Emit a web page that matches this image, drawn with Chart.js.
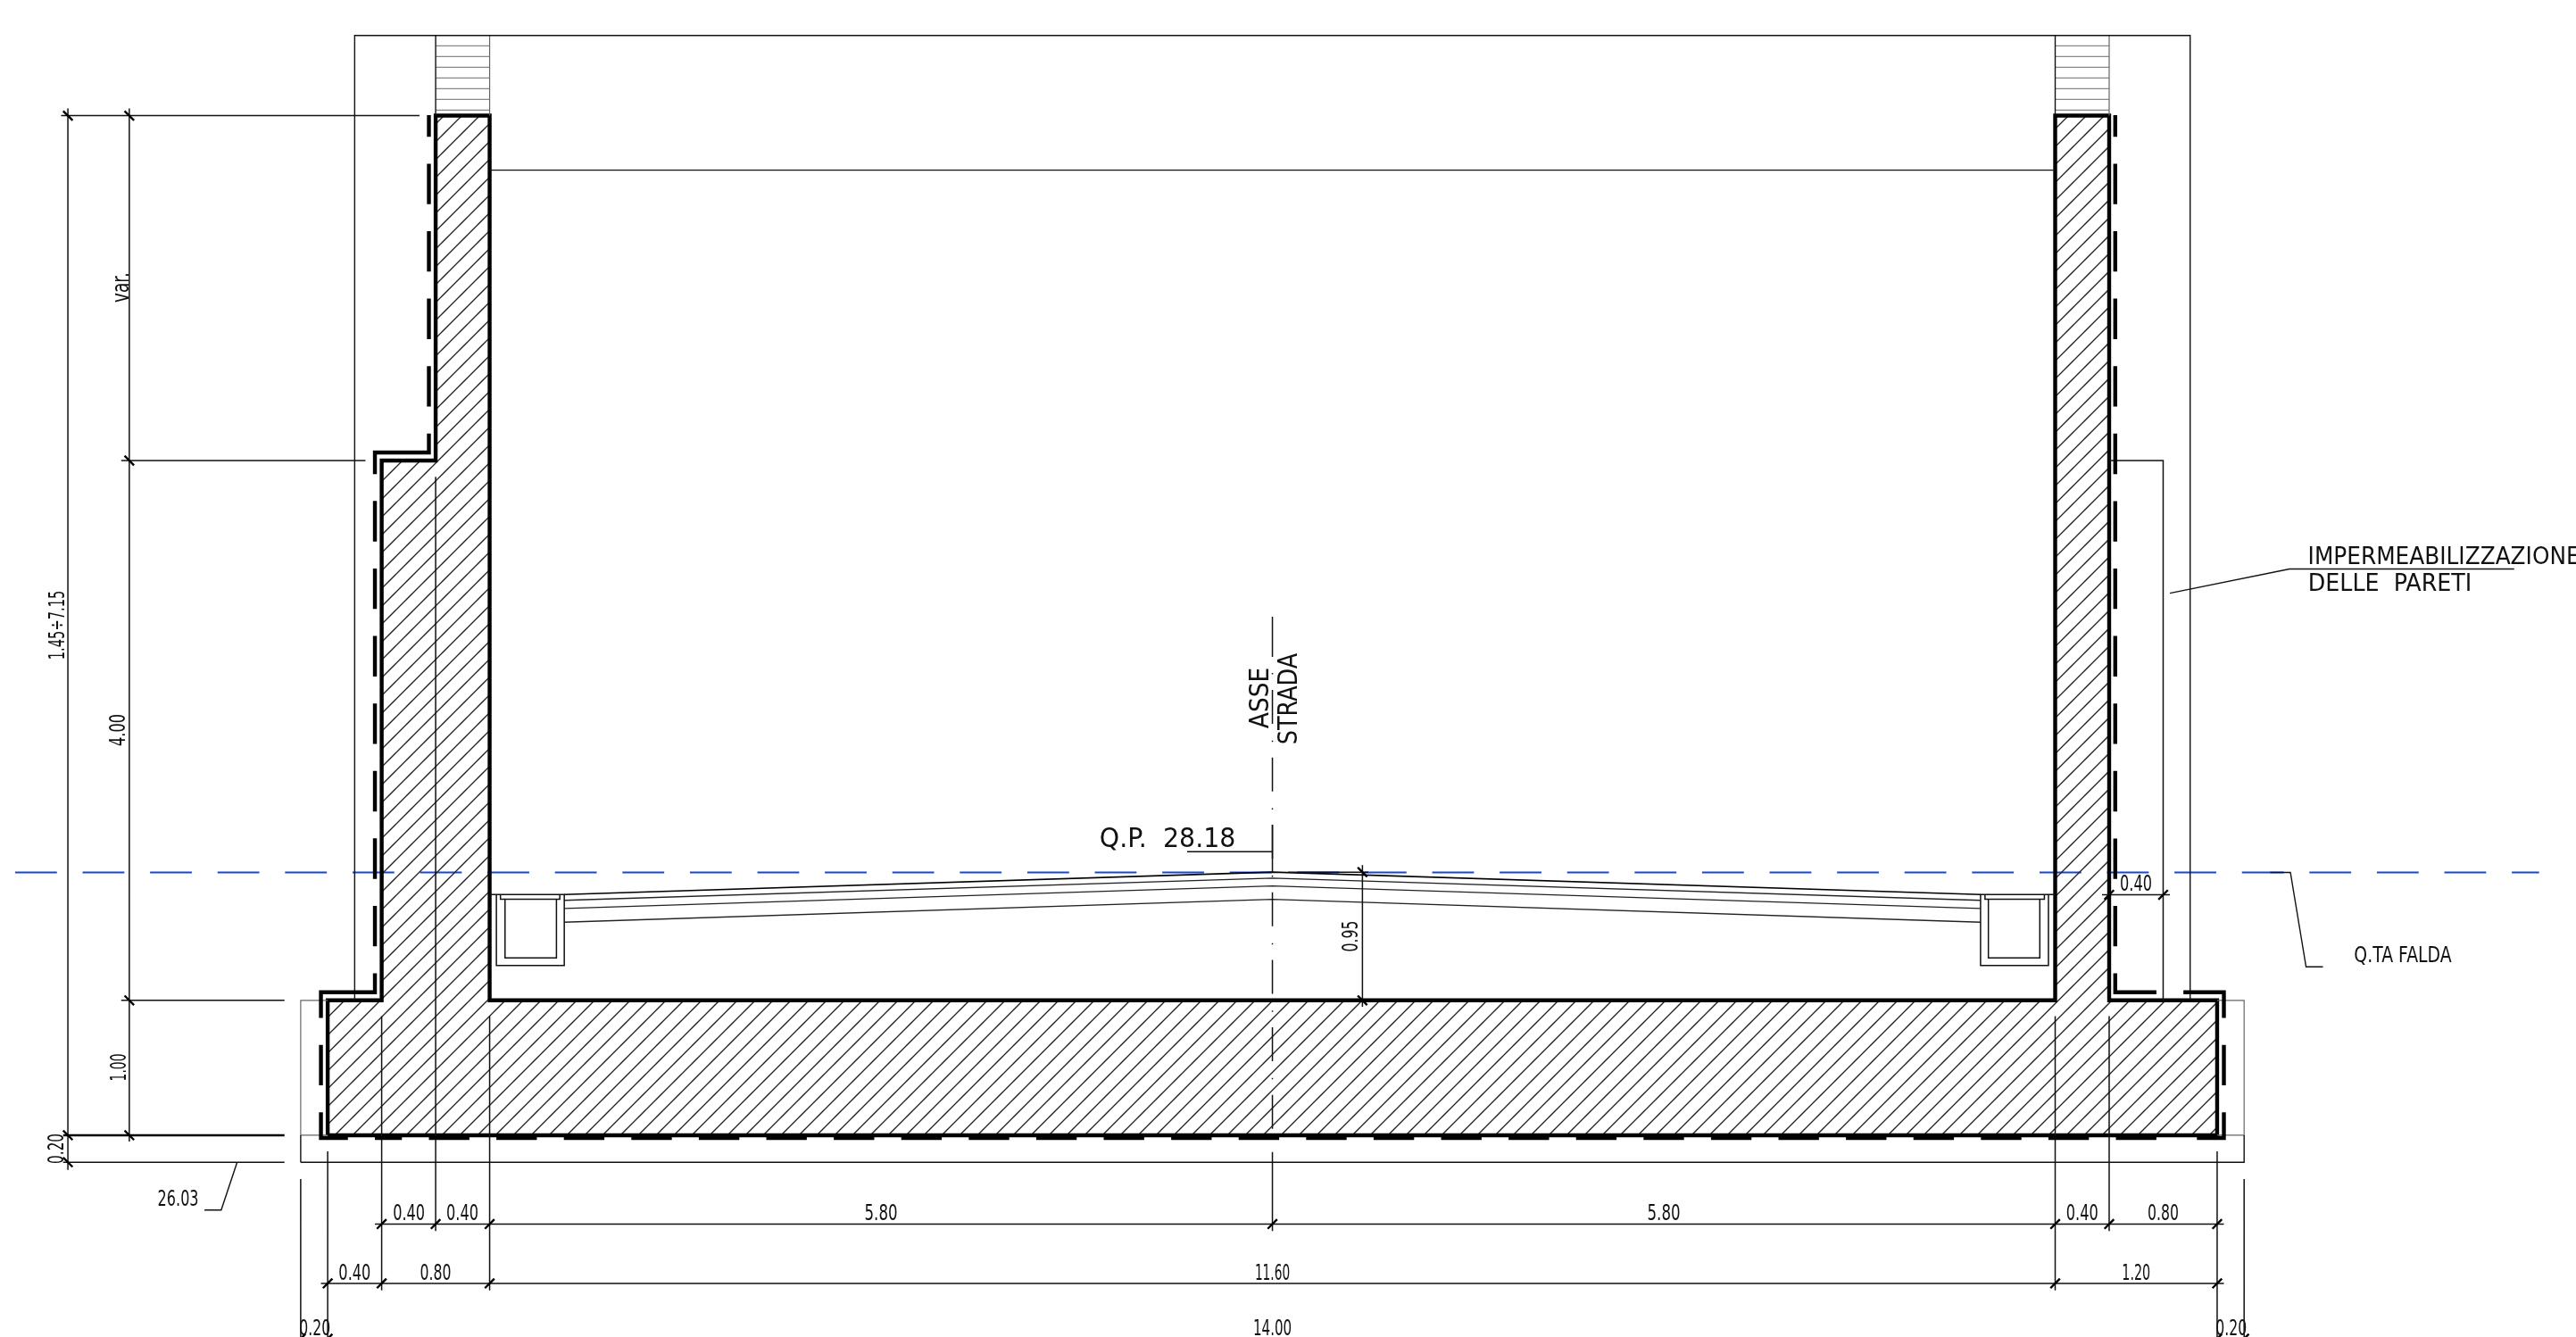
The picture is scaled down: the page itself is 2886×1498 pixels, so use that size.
<!DOCTYPE html>
<html>
<head>
<meta charset="utf-8">
<title>Sezione trasversale</title>
<style>
  html, body { margin: 0; padding: 0; background: #fff; overflow: hidden; }
  #box { width: 2886px; height: 1498px; }
</style>
<script src="https://cdn.jsdelivr.net/npm/chart.js@4/dist/chart.umd.min.js"></script>
</head>
<body>
<div id="box"><canvas id="sezione"></canvas></div>
<script>
// all geometry is in metres: x = 0 on the road axis, y = 0 under the foundation

const concreteOutline = [[-7,0],[-7,1],[-6.6,1],[-6.6,5],[-6.2,5],[-6.2,7.556],[-5.8,7.556],[-5.8,1],
  [5.8,1],[5.8,7.556],[6.2,7.556],[6.2,1],[7,1],[7,0],[-7,0]];

// waterproofing: dashed runs (0.30 on / 0.20 off) and the solid stubs at the corners
const membraneRuns = [
  [[-6.25,7.20],[-6.25,5.40]],
  [[-6.65,4.70],[-6.65,1.40]],
  [[-7.05,0.67],[-7.05,0.37]],
  [[6.245,7.20],[6.245,1.40]],
  [[7.05,0.67],[7.05,0.37]]
];
const membraneBase = [[-6.65,-0.02],[6.65,-0.02]];
const membraneStubs = [
  [[-6.25,7.56],[-6.25,7.40]],
  [[-6.25,5.20],[-6.25,5.06],[-6.65,5.06],[-6.65,4.90]],
  [[-6.65,1.20],[-6.65,1.06],[-7.05,1.06],[-7.05,0.87]],
  [[-7.05,0.17],[-7.05,-0.02],[-6.85,-0.02]],
  [[6.245,7.56],[6.245,7.40]],
  [[6.245,1.20],[6.245,1.06],[6.55,1.06]],
  [[6.75,1.06],[7.05,1.06],[7.05,0.87]],
  [[7.05,0.17],[7.05,-0.02],[6.85,-0.02]]
];

const waterLevel = [[-9.316,1.948],[9.385,1.948]];

const axisRun = [[0,3.30],[0,0]];
const axisSolid = [
  [[0,3.843],[0,3.545]],
  [[0,3.426],[0,3.416]],
  [[0,2.302],[0,1.951]],
  [[0,-0.124],[0,-0.71]]
];

const frameLines = [
  [[-6.8,1],[-6.8,8.15],[6.8,8.15],[6.8,1]],
  [[-5.8,7.152],[5.8,7.152]],
  [[-7.2,-0.2],[7.2,-0.2],[7.2,0]],
  [[-7.2,0],[-7.2,-0.2]],
  [[-6.2,7.556],[-6.2,8.15]],
  [[5.8,7.556],[5.8,8.15]]
];
const greyLines = [
  [[-7,1],[-7.2,1],[-7.2,0],[-7,0]],
  [[7,1],[7.2,1],[7.2,0],[7,0]],
  [[-5.8,7.556],[-5.8,8.15]],
  [[6.2,7.556],[6.2,8.15]]
];
const parapetRows = [8.073, 7.994, 7.914, 7.835, 7.756, 7.676, 7.597];

const roadCrest = [[[-5.247,1.784],[0,1.95],[5.247,1.784]]];
const roadLayers = [
  [[-5.247,1.741],[0,1.905],[5.247,1.741]],
  [[-5.247,1.68],[0,1.847],[5.247,1.68]],
  [[-5.247,1.579],[0,1.748],[5.247,1.579]]
];
const drains = [
  [[-5.8,1.784],[-5.247,1.784],[-5.247,1.258],[-5.75,1.258],[-5.75,1.784]],
  [[-5.686,1.75],[-5.686,1.314],[-5.305,1.314],[-5.305,1.75]],
  [[-5.72,1.784],[-5.72,1.75],[-5.28,1.75],[-5.28,1.784]],
  [[5.8,1.784],[5.247,1.784],[5.247,1.258],[5.75,1.258],[5.75,1.784]],
  [[5.686,1.75],[5.686,1.314],[5.305,1.314],[5.305,1.75]],
  [[5.72,1.784],[5.72,1.75],[5.28,1.75],[5.28,1.784]]
];

const dimensionLines = [
  [[-8.925,7.61],[-8.925,-0.256]],
  [[-8.47,7.61],[-8.47,-0.047]],
  [[-8.975,7.556],[-6.32,7.556]],
  [[-8.53,5],[-6.72,5]],
  [[-8.53,1],[-7.32,1]],
  [[-8.96,-0.2],[-7.32,-0.2]],
  [[-6.65,-0.658],[7.05,-0.658]],
  [[-7.05,-1.098],[7.05,-1.098]],
  [[-7.25,-1.508],[7.25,-1.508]],
  [[-7.2,-0.324],[-7.2,-1.6]],
  [[-7,-0.12],[-7,-1.6]],
  [[-6.6,0.882],[-6.6,-1.15]],
  [[-6.2,4.88],[-6.2,-0.71]],
  [[-5.8,0.882],[-5.8,-1.15]],
  [[5.8,0.882],[5.8,-1.15]],
  [[6.2,0.882],[6.2,-0.71]],
  [[7,-0.12],[7,-1.6]],
  [[7.2,-0.324],[7.2,-1.6]],
  [[6.147,1.782],[6.65,1.782]],
  [[6.2,5],[6.6,5],[6.6,1]],
  [[0.667,2.002],[0.667,0.952]],
  [[0.116,1.95],[0.711,1.95]],
  [[-0.632,2.101],[0,2.101]]
];
const heavyDimension = [[[-8.96,0],[-7.32,0]]];

const leaders = [
  [[-7.671,-0.2],[-7.789,-0.554],[-7.913,-0.554]],
  [[7.393,1.948],[7.543,1.948],[7.659,1.248],[7.784,1.248]],
  [[6.65,4.017],[7.536,4.196],[9.201,4.196]]
];

// dimension ticks: "/" on horizontal dimensions, "\" on vertical ones
const ticksOnHorizontal = [
  [-6.6,-0.658],[-6.2,-0.658],[-5.8,-0.658],[0,-0.658],[5.8,-0.658],[6.2,-0.658],[7,-0.658],
  [-7,-1.098],[-6.6,-1.098],[-5.8,-1.098],[5.8,-1.098],[7,-1.098],
  [-7.2,-1.508],[-7,-1.508],[7,-1.508],[7.2,-1.508],
  [6.2,1.782],[6.6,1.782]
];
const ticksOnVertical = [
  [-8.925,7.556],[-8.47,7.556],[-8.47,5],[-8.47,1],[-8.47,0],[-8.925,0],[-8.925,-0.2],
  [0.667,1.95],[0.667,1]
];

const labelTexts = ["var.","1.45÷7.15","4.00","1.00","0.20","26.03",
  "0.40","0.40","5.80","5.80","0.40","0.80",
  "0.40","0.80","11.60","1.20",
  "0.20","14.00","0.20",
  "0.40","0.95","Q.TA FALDA","IMPERMEABILIZZAZIONE","DELLE  PARETI","ASSE","STRADA","Q.P.  28.18"];
const labelX = [-8.538,-9.014,-8.562,-8.557,-9.018,-8.108,
  -6.398,-6.002,-2.9,2.9,6,6.6,
  -6.8,-6.2,0,6.4,
  -7.095,0,7.104,
  6.399,0.575,8.376,8.681,8.28,-0.103,0.107,-0.777];
const labelY = [6.283,3.78,3.003,0.503,-0.099,-0.463,
  -0.573,-0.573,-0.573,-0.573,-0.573,-0.573,
  -1.012,-1.012,-1.012,-1.012,
  -1.422,-1.422,-1.422,
  1.872,1.475,1.343,4.298,4.101,3.241,3.234,2.209];

// label look: [cap height px, text width px, vertical]
const labelLook = [[19.5,34,1],[18.4,77.7,1],[17.7,36,1],[17.7,31,1],[17.7,34,1],[17.7,46,0],
  [17.7,36,0],[17.7,36,0],[17.7,37,0],[17.7,37,0],[17.7,36,0],[17.7,35,0],
  [17.7,36,0],[17.7,35,0],[17.7,39.3,0],[17.7,32,0],
  [17.7,35,0],[17.7,43.3,0],[17.7,35,0],
  [17.7,36,0],[17.7,35,1],[17.7,109.4,0],[19,305,0],[19.5,183.6,0],[21.4,68.5,1],[22,102.5,1],[22,152.6,0]];

function toPoints(paths) {
  const pts = [];
  paths.forEach((path, i) => {
    if (i > 0) pts.push({x: NaN, y: NaN});
    path.forEach(p => pts.push({x: p[0], y: p[1]}));
  });
  return pts;
}

function hatchPattern() {
  const tile = document.createElement("canvas");
  tile.width = 20;
  tile.height = 20;
  const c = tile.getContext("2d");
  c.strokeStyle = "#222";
  c.lineWidth = 1.3;
  [7, 27].forEach(k => {
    c.beginPath();
    c.moveTo(k + 2, -2);
    c.lineTo(-2, k + 2);
    c.stroke();
  });
  return document.createElement("canvas").getContext("2d").createPattern(tile, "repeat");
}

function lineSet(paths, color, width, extra) {
  return Object.assign({
    data: toPoints(paths),
    showLine: true,
    borderColor: color,
    borderWidth: width,
    pointRadius: 0,
    tension: 0,
    spanGaps: false,
    fill: false,
    borderCapStyle: "butt",
    borderJoinStyle: "miter"
  }, extra || {});
}

const TICK = 0.035;
const slashes = ticksOnHorizontal.map(t => [[t[0] - TICK, t[1] - TICK], [t[0] + TICK, t[1] + TICK]]);
const backslashes = ticksOnVertical.map(t => [[t[0] - TICK, t[1] + TICK], [t[0] + TICK, t[1] - TICK]]);
const parapets = [];
parapetRows.forEach(y => {
  parapets.push([[-6.2, y], [-5.8, y]]);
  parapets.push([[5.8, y], [6.2, y]]);
});

const membraneDash = {borderDash: [45.36, 30.24]};

// first dataset ends up on top
const datasets = [
  lineSet(membraneStubs, "#000", 4.4),
  lineSet(membraneRuns, "#000", 4.4, membraneDash),
  lineSet([membraneBase], "#000", 4.4, {borderDash: [45.36, 30.24], borderDashOffset: 15.12}),
  lineSet(slashes.concat(backslashes), "#000", 2.4),
  lineSet(heavyDimension, "#000", 2.4),
  lineSet(leaders, "#111", 1.4),
  lineSet(dimensionLines, "#111", 1.5),
  lineSet(frameLines, "#111", 1.4),
  lineSet(axisSolid, "#111", 1.5),
  lineSet([axisRun], "#111", 1.5, {borderDash: [38, 18.8, 1.5, 17.3]}),
  lineSet(drains, "#111", 1.5),
  lineSet(roadCrest, "#000", 1.7),
  lineSet(roadLayers, "#222", 1.3),
  lineSet(greyLines, "#666", 1.2),
  lineSet(parapets, "#888", 1.2),
  lineSet([concreteOutline], "#000", 4.4, {fill: "shape", backgroundColor: hatchPattern()}),
  lineSet([waterLevel], "#1546d8", 2, {borderDash: [46.8, 28.8]})
];

const labelPlugin = {
  id: "labels",
  afterDatasetsDraw(chart) {
    const ctx = chart.ctx;
    const xs = chart.scales.x, ys = chart.scales.y;
    labelTexts.forEach((text, i) => {
      const look = labelLook[i];
      const size = look[0] / 0.729;
      ctx.save();
      ctx.font = size + "px 'DejaVu Sans'";
      ctx.fillStyle = "#111";
      ctx.textAlign = "center";
      ctx.textBaseline = "alphabetic";
      const measured = ctx.measureText(text).width;
      ctx.translate(xs.getPixelForValue(labelX[i]), ys.getPixelForValue(labelY[i]));
      if (look[2]) ctx.rotate(-Math.PI / 2);
      ctx.scale(look[1] / measured, 1);
      ctx.fillText(text, 0, look[0] / 2);
      ctx.restore();
    });
  }
};

new Chart("sezione", {
  type: "scatter",
  data: {datasets},
  plugins: [labelPlugin],
  options: {
    responsive: true,
    maintainAspectRatio: false,
    animation: false,
    devicePixelRatio: 1,
    events: [],
    layout: {padding: 0},
    plugins: {legend: {display: false}, tooltip: {enabled: false}, title: {display: false}},
    scales: {
      x: {type: "linear", display: false, min: -9.428, max: 9.659},
      y: {type: "linear", display: false, min: -1.495, max: 8.413}
    }
  }
});
</script>
</body>
</html>
